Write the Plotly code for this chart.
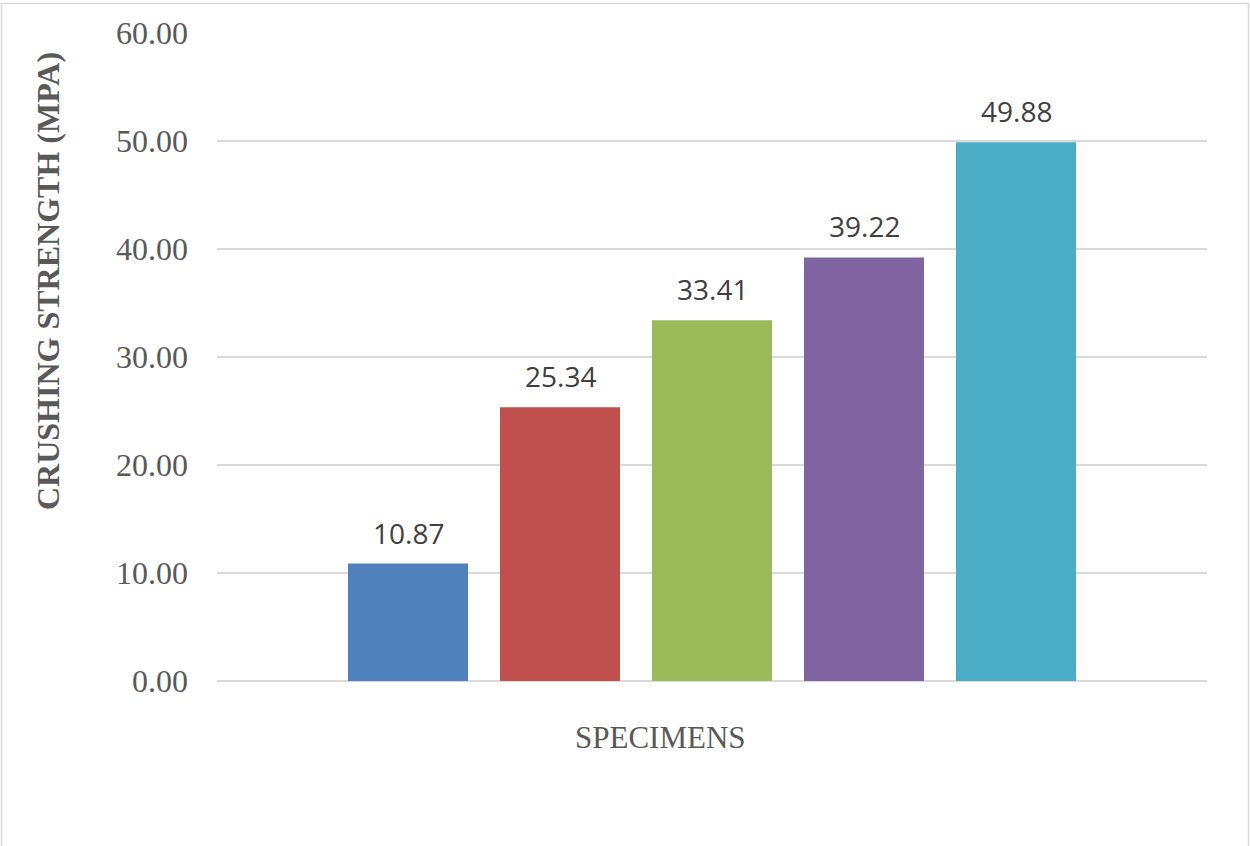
import plotly.graph_objects as go

specimens = ["S1", "S2", "S3", "S4", "S5"]
strength = [10.87, 25.34, 33.41, 39.22, 49.88]
bar_colors = ["#4F81BD", "#C0504D", "#9BBB59", "#8064A2", "#4BACC6"]
y_ticks = [0, 10, 20, 30, 40, 50, 60]
y_tick_text = [f"{v:.2f}" for v in y_ticks]

W, H = 1250, 846
L, R, T, B = 217, 43, 33, 165
pw, ph = W - L - R, H - T - B

def px_x(x):
    return (x - L) / pw

def px_y(y):
    return (H - B - y) / ph

fig = go.Figure()
fig.add_trace(go.Bar(
    x=specimens, y=strength,
    marker=dict(color=bar_colors, line=dict(width=0)),
    hoverinfo="skip",
))

for s, v in zip(specimens, strength):
    fig.add_annotation(
        x=s, y=v, xref="x", yref="y", text=f"{v:.2f}",
        showarrow=False, yanchor="bottom", yshift=10,
        font=dict(family="Open Sans", size=28, color="#404040"),
    )

fig.add_annotation(
    x=px_x(48), y=px_y(281), xref="paper", yref="paper",
    text="<b>CRUSHING STRENGTH (MPA)</b>", textangle=-90, showarrow=False,
    xanchor="center", yanchor="middle",
    font=dict(family="Liberation Serif", size=32, color="#595959"),
)
fig.add_annotation(
    x=px_x(660), y=px_y(737), xref="paper", yref="paper",
    text="SPECIMENS", showarrow=False, xanchor="center", yanchor="middle",
    font=dict(family="Liberation Serif", size=31, color="#595959"),
)

fig.add_shape(
    type="rect", xref="paper", yref="paper",
    x0=px_x(1.5), x1=px_x(1248.5), y0=px_y(900), y1=px_y(3.5),
    line=dict(color="#D9D9D9", width=1.5), fillcolor="rgba(0,0,0,0)", layer="below",
)

half = pw / 152 / 2
fig.update_layout(
    width=W, height=H,
    margin=dict(l=L, r=R, t=T, b=B),
    paper_bgcolor="white", plot_bgcolor="white",
    showlegend=False,
    bargap=32 / 152,
    xaxis=dict(
        range=[2 - half, 2 + half], showticklabels=False, showgrid=False,
        showline=False, zeroline=False, ticks="",
    ),
    yaxis=dict(
        range=[0, 60], tickvals=y_ticks, ticktext=y_tick_text,
        showgrid=True, gridcolor="#D9D9D9", gridwidth=1.5,
        zeroline=True, zerolinecolor="#D9D9D9", zerolinewidth=1.5,
        showline=False, ticks="", ticklabelstandoff=28,
        tickfont=dict(family="Liberation Serif", size=32, color="#595959"),
    ),
)

fig.write_html("out.html")
